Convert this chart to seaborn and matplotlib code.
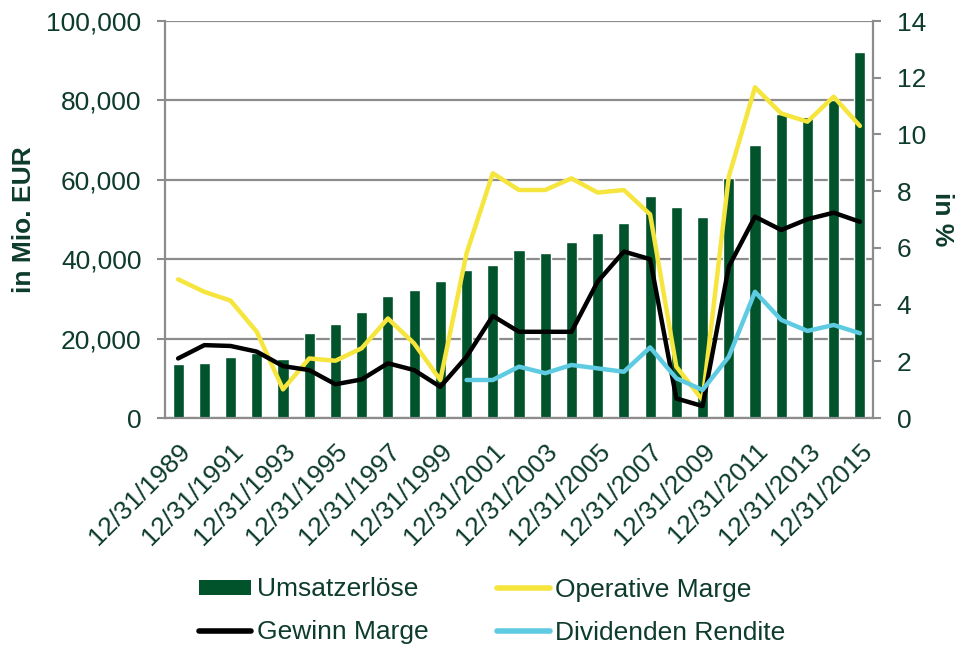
import matplotlib
matplotlib.use("Agg")
import matplotlib.pyplot as plt
import matplotlib.ticker as mticker
from matplotlib.patches import Patch
from matplotlib.lines import Line2D
import seaborn as sns
import pandas as pd
import numpy as np

years = list(range(1989, 2016))
dates = [f"12/31/{y}" for y in years]

umsatz = [13500, 13900, 15300, 16300, 14800, 21500, 23700, 26700, 30800, 32300,
          34400, 37300, 38500, 42300, 41500, 44300, 46700, 49000, 56000, 53100,
          50600, 60500, 68800, 76600, 75700, 80100, 92100]

operative = [4.89, 4.45, 4.14, 3.04, 1.01, 2.10, 2.02, 2.46, 3.51, 2.63,
             1.34, 5.81, 8.63, 8.04, 8.04, 8.45, 7.95, 8.04, 7.18, 1.81,
             0.63, 8.51, 11.66, 10.74, 10.45, 11.33, 10.30]

gewinn = [2.10, 2.57, 2.54, 2.34, 1.83, 1.69, 1.19, 1.36, 1.93, 1.69,
          1.10, 2.16, 3.60, 3.04, 3.04, 3.04, 4.81, 5.87, 5.60, 0.69,
          0.42, 5.34, 7.10, 6.63, 7.01, 7.24, 6.92]

div_years = list(range(2000, 2016))
dividende = [1.34, 1.34, 1.81, 1.58, 1.87, 1.75, 1.63, 2.49, 1.40, 0.99,
             2.16, 4.45, 3.46, 3.07, 3.28, 2.99]

tick_labels = dates[::2]

TXT = "#0d3b2c"
BAR = "#00532b"
YEL = "#f5e53c"
CYA = "#5ecbe3"
GRY = "#8c8c8c"
FS = 19

sns.set_theme(style="white")
plt.rcParams['font.family'] = ['Liberation Sans', 'DejaVu Sans']

fig = plt.figure(figsize=(9.58, 6.51), dpi=100)
ax = fig.add_axes([165/958, 1-418/651, (873-165)/958, (418-21)/651])

df_bar = pd.DataFrame({"pos": np.arange(len(years)), "Umsatzerlöse": umsatz})
sns.barplot(data=df_bar, x="pos", y="Umsatzerlöse", color=BAR, width=0.42,
            saturation=1, ax=ax, native_scale=True, zorder=2)

ax.set_xlim(-0.5, len(years) - 0.5)
ax.set_ylim(0, 100000)
ax.yaxis.set_major_locator(mticker.MultipleLocator(20000))
ax.yaxis.set_major_formatter(mticker.FuncFormatter(lambda v, p: f"{int(v):,}"))
ax.grid(axis="y", color=GRY, linewidth=1.6, zorder=0)
ax.set_axisbelow(True)

ax.set_xticks(np.arange(0, len(years), 2))
ax.set_xticklabels(tick_labels, rotation=45, ha="right", rotation_mode="anchor")
ax.set_xticks(np.arange(-0.5, len(years), 2), minor=True)
ax.tick_params(axis="x", which="major", length=0, labelsize=FS, labelcolor=TXT, pad=15)
ax.tick_params(axis="x", which="minor", length=6, width=1.5, color=GRY, direction="out")
ax.tick_params(axis="y", length=6, width=1.5, color=GRY, direction="out",
               labelsize=FS, labelcolor=TXT, pad=11)
ax.set_xlabel("")
ax.set_ylabel("in Mio. EUR", fontsize=FS, fontweight="bold", color=TXT)
ax.yaxis.set_label_coords(-(165-36)/708, 0.50)

for s in ["top", "right"]:
    ax.spines[s].set_visible(False)
for s in ["left", "bottom"]:
    ax.spines[s].set_color(GRY)
    ax.spines[s].set_linewidth(1.6)

ax2 = ax.twinx()
pos = np.arange(len(years))
df_line = pd.DataFrame({"pos": pos, "op": operative, "gw": gewinn})
df_div = pd.DataFrame({"pos": pos[years.index(2000):], "dv": dividende})

sns.lineplot(data=df_line, x="pos", y="op", color=YEL, linewidth=3.2, ax=ax2)
sns.lineplot(data=df_line, x="pos", y="gw", color="black", linewidth=3.2, ax=ax2)
sns.lineplot(data=df_div, x="pos", y="dv", color=CYA, linewidth=3.2, ax=ax2)

ax2.set_ylim(0, 14)
ax2.set_xlim(-0.5, len(years) - 0.5)
ax2.yaxis.set_major_locator(mticker.MultipleLocator(2))
ax2.tick_params(axis="y", length=6, width=1.5, color=GRY, direction="out",
                labelsize=FS, labelcolor=TXT, pad=11)
ax2.set_ylabel("in %", fontsize=FS, fontweight="bold", color=TXT, rotation=270,
               va="center", ha="center")
ax2.yaxis.set_label_coords(1 + (942-873)/708, 0.50)
ax2.set_xlabel("")
for s in ["top", "left", "bottom"]:
    ax2.spines[s].set_visible(False)
ax2.spines["right"].set_color(GRY)
ax2.spines["right"].set_linewidth(1.6)
ax2.grid(False)

handles = [
    Patch(facecolor=BAR, edgecolor="none", label="Umsatzerlöse"),
    Line2D([0], [0], color="black", linewidth=4, solid_capstyle="round", label="Gewinn Marge"),
    Line2D([0], [0], color=YEL, linewidth=4, solid_capstyle="round", label="Operative Marge"),
    Line2D([0], [0], color=CYA, linewidth=4, solid_capstyle="round", label="Dividenden Rendite"),
]
leg = fig.legend(handles=handles, ncol=2, loc="center",
                 bbox_to_anchor=(492/958, 1-611/651), frameon=False,
                 fontsize=FS, handlelength=2.0, handleheight=0.5,
                 handletextpad=0.2, columnspacing=2.6, labelspacing=0.72)
for t in leg.get_texts():
    t.set_color(TXT)

fig.savefig("out.png", dpi=100)
